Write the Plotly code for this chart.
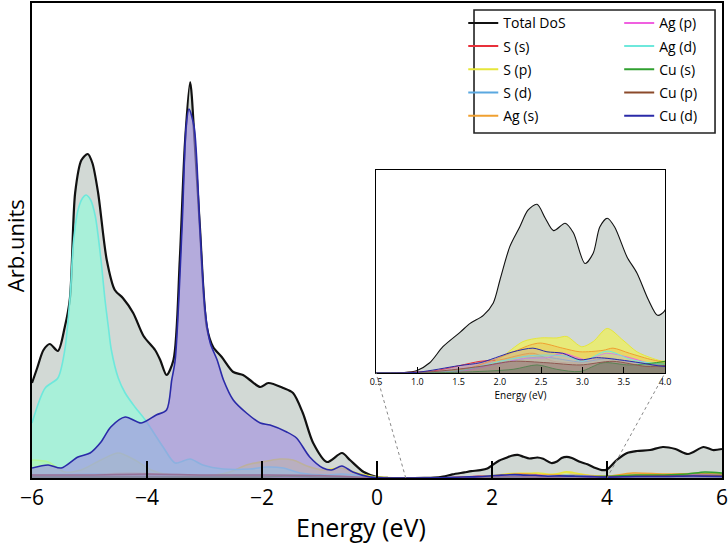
import plotly.graph_objects as go

# ---------------- data ----------------
series_names = ["Total DoS", "S (s)", "S (p)", "S (d)", "Ag (s)",
                "Ag (p)", "Ag (d)", "Cu (s)", "Cu (p)", "Cu (d)"]

total_E = [-6.0, -5.91, -5.80, -5.69, -5.55, -5.43, -5.34, -5.25, -5.14, -5.03, -4.95,
           -4.85, -4.70, -4.56, -4.42, -4.24, -4.06, -3.86, -3.77, -3.66, -3.54, -3.43,
           -3.34, -3.25, -3.17, -3.08, -2.96, -2.85, -2.70, -2.50, -2.33, -2.21, -2.03,
           -1.89, -1.63, -1.46, -1.29, -1.11, -0.87, -0.61, -0.47, -0.23, 0.0, 0.2, 0.5,
           0.82, 0.99, 1.15, 1.31, 1.52, 1.64, 1.80, 1.92, 2.0, 2.12, 2.24, 2.34, 2.45,
           2.55, 2.65, 2.79, 2.89, 3.03, 3.13, 3.21, 3.30, 3.39, 3.54, 3.66, 3.80, 3.91,
           4.0, 4.17, 4.35, 4.52, 4.75, 4.97, 5.19, 5.41, 5.68, 5.84, 6.0]
total_V = [95, 110, 128, 134, 127, 151, 180, 285, 318, 324, 315,
           285, 218, 188, 180, 165, 142, 128, 118, 103, 118, 218,
           335, 396, 335, 251, 151, 131, 121, 106, 103, 98, 91,
           95, 90, 85, 65, 35, 16, 25, 18, 6, 1, 0, 0,
           0.05, 0.3, 1.4, 3.6, 5.6, 6.8, 7.9, 9.6, 12.7, 17.3, 20.0, 22.3, 23.1,
           21.2, 19.5, 20.5, 19.2, 15.0, 16.4, 20.0, 21.2, 20.0, 15.9, 13.7, 10.0, 7.9,
           8.6, 18, 25, 27, 28, 31, 29, 24, 31, 28, 29]

ss_E = [-6, -5, -4.3, -3, -2, -1, 0, 0.5, 1.2, 1.76, 2.0, 2.4, 2.65, 2.97, 3.29, 3.57,
        3.85, 4.0, 4.5, 5.0, 5.5, 6.0]
ss_V = [2, 2, 3, 1.5, 2, 1.5, 0.2, 0, 0.3, 1.6, 1.8, 2.7, 1.6, 1.4, 2.1, 1.4,
        0.7, 0.8, 2, 2, 2.5, 2]

sp_E = [-6, -5.72, -5.43, -5.15, -4.80, -4.50, -4.21, -3.93, -3.6, -3.0, -2.56, -2.27,
        -1.91, -1.69, -1.46, -1.22, -0.94, -0.64, -0.35, 0, 0.5, 1.2, 1.5, 1.8, 2.0,
        2.28, 2.49, 2.69, 2.81, 2.99, 3.13, 3.3, 3.49, 3.66, 3.85, 4.0, 4.5, 5.0, 5.5, 6.0]
sp_V = [18, 16, 6, 8, 18, 25, 18, 8, 3, 2, 6, 13,
        17, 19, 18, 12, 8, 10, 5, 1, 0, 0.1, 0.4, 0.8, 2.0,
        4.3, 4.8, 4.8, 5.0, 3.6, 4.3, 6.1, 4.5, 2.9, 2.0, 1.6, 3, 3.5, 3, 3]

sd_E = [-6, -4.5, -3, -2, -1, 0, 0.5, 1.5, 2.0, 2.5, 3.0, 3.3, 3.6, 4.0, 5, 6]
sd_V = [3, 4, 2, 3, 2, 0.3, 0, 0.3, 1.4, 2.2, 1.5, 2.0, 1.5, 1.0, 2, 2]

ags_E = [-6, -5.0, -4.3, -3.5, -2.5, -1.5, -0.5, 0, 0.5, 1.5, 2.08, 2.36, 2.49, 2.76,
         2.97, 3.25, 3.37, 3.57, 3.85, 4.0, 4.45, 5.0, 5.5, 6.0]
ags_V = [3, 3, 5, 3, 2, 3, 2, 0.3, 0, 0.3, 2.5, 3.8, 4.1, 3.4,
         2.9, 3.1, 3.4, 2.7, 1.8, 1.6, 5, 4, 4.5, 4]

agp_E = [-6, -4, -2, 0, 0.5, 1.5, 2.0, 2.3, 2.57, 2.76, 3.05, 3.29, 3.57, 3.85, 4.0,
         5.0, 5.6, 6.0]
agp_V = [1, 1.5, 1, 0.2, 0, 0.2, 1.3, 2.0, 2.1, 2.7, 1.8, 2.7, 2.1, 1.2, 1.0,
         2, 3.5, 2.5]

agd_E = [-6.0, -5.77, -5.55, -5.43, -5.34, -5.28, -5.20, -5.12, -5.06, -4.98, -4.90,
         -4.80, -4.73, -4.67, -4.62, -4.50, -4.38, -4.21, -4.03, -3.72, -3.51, -3.25,
         -3.03, -2.67, -2.21, -1.91, -1.63, -1.34, -0.85, -0.61, 0.0, 0.5, 1.5, 2.0,
         2.4, 2.8, 3.0, 3.3, 3.6, 4.0, 5.0, 6.0]
agd_V = [55, 90, 100, 128, 180, 235, 268, 280, 283, 278, 262,
         218, 178, 150, 128, 100, 85, 71, 58, 31, 15, 19,
         13, 9, 9, 11, 10, 5, 3, 4, 0.3, 0, 0.3, 1.6,
         2.4, 2.3, 1.6, 3.0, 1.8, 1.2, 1.5, 1.5]

cus_E = [-6, -4, -2, -1.6, -1, 0, 0.5, 1.5, 2.16, 2.45, 2.69, 2.97, 3.25, 3.57, 4.0,
         4.5, 5.0, 5.4, 5.7, 6.0]
cus_V = [1, 1, 1, 2, 1, 0.2, 0, 0.1, 0.5, 1.1, 0.5, 0.2, 1.4, 1.1, 1.6,
         3, 3, 4, 6, 5]

cup_E = [-6, -5, -4, -3, -2, -1, 0, 0.5, 1.2, 1.76, 2.16, 2.57, 2.97, 3.37, 3.77, 4.0,
         5.0, 6.0]
cup_V = [3, 3, 4, 3, 3, 2.5, 0.3, 0, 0.2, 0.9, 1.6, 1.4, 1.1, 1.6, 0.9, 1.0,
         2, 2]

cud_E = [-6.0, -5.72, -5.49, -5.20, -4.99, -4.80, -4.63, -4.38, -4.10, -3.84, -3.66,
         -3.57, -3.51, -3.39, -3.32, -3.27, -3.18, -3.08, -2.99, -2.90, -2.78, -2.67,
         -2.50, -2.27, -2.03, -1.86, -1.57, -1.40, -1.17, -0.94, -0.79, -0.61, -0.42,
         -0.12, 0.2, 0.5, 1.0, 1.5, 1.76, 2.0, 2.16, 2.40, 2.57, 2.76, 2.97, 3.17,
         3.45, 3.7, 4.0, 4.5, 5.0, 5.5, 6.0]
cud_V = [10, 13, 10, 21, 25, 36, 51, 61, 55, 63, 68,
         98, 118, 251, 351, 369, 351, 251, 168, 135, 118, 98,
         78, 65, 55, 53, 46, 40, 21, 10, 8, 12, 6,
         1, 0, 0, 0.1, 1.0, 1.4, 2.3, 2.9, 3.4, 2.9, 2.7, 1.8, 2.1,
         1.8, 1.4, 0.9, 1.5, 1.5, 2, 1.5]

x_ticks = [-6, -4, -2, 0, 2, 4, 6]
inset_ticks = [0.5, 1.0, 1.5, 2.0, 2.5, 3.0, 3.5, 4.0]
x_title = "Energy (eV)"
y_title = "Arb.units"

# ---------------- styles ----------------
# (x, y, line colour, main fill, inset fill)
series = [
    (total_E, total_V, "#111111", "rgb(210,217,213)", "rgb(210,217,213)"),
    (ss_E, ss_V, "#e8303a", "rgba(232,48,58,0.30)", "rgba(200,40,50,0.25)"),
    (sp_E, sp_V, "#e6e63a", "rgba(240,240,60,0.45)", "rgba(245,245,60,0.60)"),
    (sd_E, sd_V, "#5aa8e0", "rgba(90,168,224,0.30)", "rgba(90,168,224,0.20)"),
    (ags_E, ags_V, "#f0a030", "rgba(240,160,48,0.30)", "rgba(240,160,48,0.25)"),
    (agp_E, agp_V, "#f060e0", "rgba(240,96,224,0.30)", "rgba(240,96,224,0.20)"),
    (agd_E, agd_V, "#6ee8dc", "rgba(140,255,220,0.60)", "rgba(140,255,220,0.25)"),
    (cus_E, cus_V, "#30a030", "rgba(48,160,48,0.35)", "rgba(48,120,48,0.35)"),
    (cup_E, cup_V, "#8b4a2b", "rgba(139,74,43,0.35)", "rgba(120,70,50,0.35)"),
    (cud_E, cud_V, "#2a2aa8", "rgba(160,140,225,0.60)", "rgba(160,140,225,0.20)"),
]

MAIN_X = [-6, 6]
MAIN_Y = [0, 475]
INSET_X = [0.5, 4.0]
INSET_Y = [0, 27.8]
INSET_DOM_X = [0.4986, 0.9174]
INSET_DOM_Y = [0.2211, 0.6484]

FONT = "Open Sans"

fig = go.Figure()
for (E, V, lc, fc, fc2), name in zip(series, series_names):
    is_tot = name == "Total DoS"
    for xa, ya, w, f in (("x", "y", 2.2 if is_tot else 1.6, fc),
                         ("x2", "y2", 1.1 if is_tot else 1.0, fc2)):
        fig.add_trace(go.Scatter(
            x=E, y=V, mode="lines", name=name, showlegend=False,
            line=dict(color=lc, width=w, shape="spline", smoothing=0.8),
            fill="tozeroy", fillcolor=f, xaxis=xa, yaxis=ya, hoverinfo="skip"))

# legend-only line samples, two columns
for i, ((E, V, lc, fc, fc2), name) in enumerate(zip(series, series_names)):
    fig.add_trace(go.Scatter(
        x=[None], y=[None], mode="lines", name=name, legendgroup=name,
        line=dict(color=lc, width=2),
        legend="legend" if i < 5 else "legend2"))

axis_font = dict(family=FONT, size=21, color="black")
leg_common = dict(xanchor="left", yanchor="top", bgcolor="rgba(0,0,0,0)",
                  font=dict(family=FONT, size=14), tracegroupgap=2)
fig.update_layout(
    width=728, height=544,
    margin=dict(l=32, r=6, t=3, b=66, autoexpand=False),
    paper_bgcolor="white", plot_bgcolor="white",
    font=dict(family=FONT, color="black"),
    xaxis=dict(range=MAIN_X, tickvals=x_ticks, ticks="inside", ticklen=17,
               tickwidth=1.6, tickcolor="black", showline=True, linewidth=2,
               linecolor="black", mirror=True, showgrid=False, zeroline=False,
               tickfont=axis_font, automargin=False, ticklabeloverflow="allow"),
    yaxis=dict(range=MAIN_Y, showticklabels=False, ticks="", showline=True,
               linewidth=2, linecolor="black", mirror=True, showgrid=False,
               zeroline=False, automargin=False),
    xaxis2=dict(domain=INSET_DOM_X, anchor="y2", range=INSET_X, tickvals=inset_ticks,
                ticktext=[f"{t:.1f}" for t in inset_ticks], ticks="inside", ticklen=6,
                tickwidth=1, tickcolor="black", showline=True, linewidth=1,
                linecolor="black", mirror=True, showgrid=False, zeroline=False,
                tickfont=dict(family=FONT, size=9), automargin=False,
                title=dict(text=x_title, font=dict(family=FONT, size=10),
                           standoff=1)),
    yaxis2=dict(domain=INSET_DOM_Y, anchor="x2", range=INSET_Y, showticklabels=False,
                ticks="", showline=True, linewidth=1, linecolor="black", mirror=True,
                showgrid=False, zeroline=False, automargin=False),
    legend=dict(x=0.625, y=0.991, **leg_common),
    legend2=dict(x=0.851, y=0.991, **leg_common),
    annotations=[
        dict(text=x_title, xref="paper", yref="paper", x=0.4768, y=-0.1032,
             xanchor="center", yanchor="middle", showarrow=False,
             font=dict(family=FONT, size=25, color="black")),
        dict(text=y_title, xref="paper", yref="paper", x=-0.0246, y=0.488,
             xanchor="center", yanchor="middle", showarrow=False, textangle=-90,
             borderpad=0, font=dict(family=FONT, size=22, color="black")),
    ],
)

# legend frame
fig.add_shape(type="rect", xref="paper", yref="paper",
              x0=0.6406, x1=0.9899, y0=0.7263, y1=0.9853,
              line=dict(color="#222222", width=1.6), fillcolor="rgba(0,0,0,0)",
              layer="above")

# dotted connectors from the zoomed window on the main axis to the inset corners
def to_paper(xv):
    return (xv - MAIN_X[0]) / (MAIN_X[1] - MAIN_X[0])

for xv, xp in ((INSET_X[0], INSET_DOM_X[0]), (INSET_X[1], INSET_DOM_X[1])):
    fig.add_shape(type="line", xref="paper", yref="paper",
                  x0=to_paper(xv), y0=0, x1=xp, y1=INSET_DOM_Y[0],
                  line=dict(color="#888888", width=1, dash="dot"), layer="above")

fig.write_html("out.html", config={"displayModeBar": False},
               post_script="document.body.style.margin='0px';"
                           "document.body.style.overflow='hidden';")
